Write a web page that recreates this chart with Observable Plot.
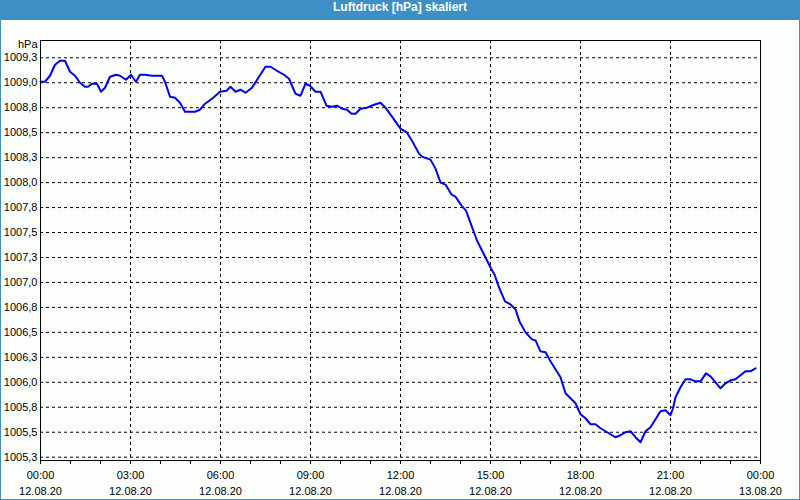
<!DOCTYPE html>
<html>
<head>
<meta charset="utf-8">
<script src="https://cdn.jsdelivr.net/npm/d3@7"></script>
<script src="https://cdn.jsdelivr.net/npm/@observablehq/plot@0.6"></script>
<style>
  html, body { margin: 0; padding: 0; background: #fcfefc; }
  #wrap { position: relative; width: 800px; height: 500px; background: #fcfefc; overflow: hidden; }
  #title { height: 20px; line-height: 20px; background: #3d8fc6; color: #fff; text-align: center;
           font: bold 12px "Liberation Sans", sans-serif; }
  #chart { position: absolute; left: 0; top: 20px; }
  #border { position: absolute; left: 0; top: 0; width: 800px; height: 500px; box-sizing: border-box;
            border: 1px solid #3d8fc6; border-top: none; pointer-events: none; }
</style>
</head>
<body>
<div id="wrap">
  <div id="title">Luftdruck [hPa] skaliert</div>
  <div id="chart"></div>
  <div id="border"></div>
</div>
<script>
// minutes after 12.08.20 00:00
const minutes = [0,9,19,29,39,49,59,69,79,89,95,103,113,121,129,139,151,159,171,181,191,199,209,223,243,249,259,269,279,289,309,319,329,343,359,
  372,380,390,400,410,423,437,450,460,473,487,497,503,510,520,530,539,550,560,572,583,593,603,613,622,630,640,653,667,680,690,703,
  710,720,733,743,757,763,780,790,800,810,822,830,842,851,862,873,887,900,908,917,929,940,950,958,970,
  983,990,1000,1010,1020,1030,1040,1050,1060,1070,1080,1090,1100,1110,1120,1130,1140,1150,1160,1170,1180,1190,1200,1210,1220,1230,1240,1250,1260,1265,1270,1280,1290,1300,1310,1320,1331,1340,1350,1360,1370,1380,1390,1400,1410,1420,1430];
// pressure in hPa
const pressure = [1009.01,1009.01,1009.07,1009.18,1009.22,1009.22,1009.11,1009.07,1009.00,1008.96,1008.96,1008.99,1008.99,1008.91,1008.95,1009.06,1009.08,1009.07,1009.03,1009.08,1009.01,1009.08,1009.08,1009.07,1009.07,1009.01,1008.86,1008.85,1008.80,1008.71,1008.71,1008.73,1008.79,1008.84,1008.91,
  1008.92,1008.96,1008.91,1008.93,1008.90,1008.95,1009.06,1009.16,1009.16,1009.12,1009.08,1009.04,1008.97,1008.89,1008.87,1008.99,1008.97,1008.91,1008.91,1008.77,1008.76,1008.77,1008.74,1008.73,1008.69,1008.69,1008.74,1008.75,1008.78,1008.80,1008.75,1008.66,
  1008.61,1008.54,1008.50,1008.42,1008.29,1008.26,1008.23,1008.14,1008.00,1007.98,1007.88,1007.86,1007.77,1007.72,1007.57,1007.42,1007.28,1007.15,1007.08,1006.95,1006.81,1006.78,1006.73,1006.61,1006.50,
  1006.43,1006.42,1006.31,1006.30,1006.21,1006.13,1006.05,1005.89,1005.84,1005.79,1005.68,1005.64,1005.58,1005.58,1005.54,1005.51,1005.48,1005.45,1005.47,1005.50,1005.51,1005.45,1005.40,1005.51,1005.55,1005.63,1005.71,1005.72,1005.67,1005.74,1005.85,1005.95,1006.03,1006.03,1006.01,1006.01,1006.09,1006.06,1006.00,1005.94,1005.99,1006.02,1006.03,1006.07,1006.11,1006.11,1006.14];

const yTickValues = [1005.25,1005.5,1005.75,1006,1006.25,1006.5,1006.75,1007,1007.25,1007.5,1007.75,1008,1008.25,1008.5,1008.75,1009,1009.25];
const yTickLabels = ["1005,3","1005,5","1005,8","1006,0","1006,3","1006,5","1006,8","1007,0","1007,3","1007,5","1007,8","1008,0","1008,3","1008,5","1008,8","1009,0","1009,3"];
const xTickHours = [0,3,6,9,12,15,18,21,24];
const xTickTimes = ["00:00","03:00","06:00","09:00","12:00","15:00","18:00","21:00","00:00"];
const xTickDates = ["12.08.20","12.08.20","12.08.20","12.08.20","12.08.20","12.08.20","12.08.20","12.08.20","13.08.20"];
const yUnit = "hPa";

const t0 = Date.UTC(2020, 7, 12);
const toDate = m => new Date(t0 + m * 60000);
const data = minutes.map((m, i) => ({date: toDate(m), value: pressure[i]}));
const majorTicks = xTickHours.map(h => toDate(h * 60));
const minorTicks = d3.range(0, 25).map(h => toDate(h * 60));
const xLabel = new Map(majorTicks.map((d, i) => [+d, xTickTimes[i] + "\n" + xTickDates[i]]));
const yLabel = new Map(yTickValues.map((v, i) => [v, yTickLabels[i]]));

const chart = Plot.plot({
  width: 800,
  height: 480,
  marginLeft: 40,
  marginRight: 40,
  marginTop: 20,
  marginBottom: 40,
  style: {background: "transparent", fontFamily: "'Liberation Sans', sans-serif", fontSize: "11px", color: "#000"},
  x: {type: "utc", domain: [toDate(0), toDate(1440)]},
  y: {domain: [1005.217, 1009.423]},
  marks: [
    Plot.gridY(yTickValues, {stroke: "#000", strokeOpacity: 1, strokeDasharray: "3,3"}),
    Plot.gridX(majorTicks, {stroke: "#000", strokeOpacity: 1, strokeDasharray: "3,3"}),
    Plot.axisX({ticks: minorTicks, tickSize: 4, tickFormat: () => "", stroke: "#000"}),
    Plot.axisX({ticks: majorTicks, tickSize: 0, tickPadding: 7, tickFormat: d => xLabel.get(+d), lineHeight: 1.45, fill: "#000", label: null}),
    Plot.axisY({ticks: yTickValues, tickSize: 0, tickPadding: 3, tickFormat: v => yLabel.get(v), fill: "#000", label: null}),
    Plot.line(data, {x: "date", y: "value", stroke: "#0000f0", strokeWidth: 2}),
    Plot.frame({stroke: "#000"}),
    Plot.text([yUnit], {frameAnchor: "top-left", textAnchor: "end", lineAnchor: "top", dx: -3, dy: 0, fill: "#000"})
  ]
});
document.getElementById("chart").appendChild(chart);
</script>
</body>
</html>
